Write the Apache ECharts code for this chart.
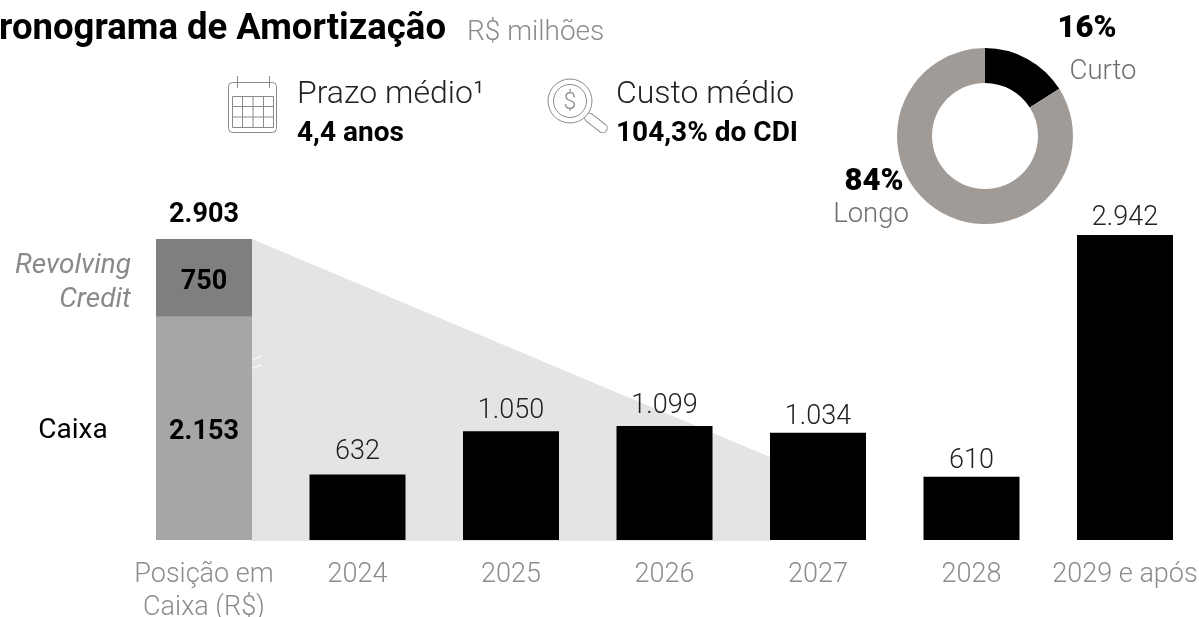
<!DOCTYPE html>
<html><head><meta charset="utf-8">
<style>html,body{margin:0;padding:0;background:#fff;overflow:hidden}#c{width:1199px;height:617px}</style>
<script src="https://cdn.jsdelivr.net/npm/echarts@6/dist/echarts.min.js"></script>
</head><body><div id="c"></div>
<script>
const categories = ['Posição em\nCaixa (R$)','2024','2025','2026','2027','2028','2029 e após'];
const cashValues = [2153,null,null,null,null,null,null];
const revolvingValues = [750,null,null,null,null,null,null];
const totalValues = [2903,null,null,null,null,null,null];
const debtValues = [null,632,1050,1099,1034,610,2942];
const wedgeFrom = [0,2903];
const wedgeTo = [4,800];
const donutNames = ['Curto','Longo'];
const donutValues = [16,84];

const FF = 'Roboto, sans-serif';
const fmt = v => String(v).replace(/\B(?=(\d{3})+$)/g,'.');
const chart = echarts.init(document.getElementById('c'),null,{renderer:'canvas'});

function txt(x,y,text,size,color,weight,align,extra){
  return {type:'text',x,y,silent:true,z:20,style:Object.assign({text,fontFamily:FF,fontSize:size,fill:color,fontWeight:weight||400,align:align||'left',verticalAlign:'middle'},extra||{})};
}
const ic='#8a8a8a';
function ln(x1,y1,x2,y2,color,w){return {type:'line',silent:true,z:20,shape:{x1,y1,x2,y2},style:{stroke:color||ic,lineWidth:w||1}};}
const calendar=[
  {type:'rect',silent:true,z:20,shape:{x:228.5,y:82.5,width:48,height:50,r:4},style:{fill:'none',stroke:ic,lineWidth:1}},
  ln(237.5,76,237.5,88),ln(269.5,76,269.5,88),
  {type:'rect',silent:true,z:20,shape:{x:232.5,y:96.5,width:41,height:31},style:{fill:'none',stroke:ic,lineWidth:1}},
  ln(242.5,96,242.5,128),ln(253,96,253,128),ln(263.5,96,263.5,128),
  ln(232,106.5,274,106.5),ln(232,117,274,117)
];
const magnifier=[
  {type:'circle',silent:true,z:20,shape:{cx:570,cy:101,r:22},style:{fill:'#fff',stroke:ic,lineWidth:1}},
  {type:'circle',silent:true,z:20,shape:{cx:570,cy:101,r:16.5},style:{fill:'none',stroke:ic,lineWidth:1}},
  txt(570,103,'$',23,ic,300,'center'),
  {type:'rect',silent:true,z:19,x:596,y:123,rotation:-38*Math.PI/180,originX:0,originY:0,shape:{x:-13,y:-4.5,width:26,height:9,r:4.5},style:{fill:'#fff',stroke:ic,lineWidth:1}}
];
const graphics=[
  txt(446,30,'Cronograma de Amortização',36.5,'#000',700,'right'),
  txt(467,33,'R$ milhões',28,'#8c8c8c',300),
  ...calendar,...magnifier,
  txt(297,95,'Prazo médio¹',32,'#222',300),
  txt(297,134,'4,4 anos',28,'#000',700),
  txt(616,95,'Custo médio',32,'#222',300),
  txt(616,134,'104,3% do CDI',28,'#000',700),
  txt(1087,29,donutValues[0]+'%',31,'#000',900,'center'),
  txt(1103,72,donutNames[0],27.5,'#6e6e6e',300,'center'),
  txt(874,182,donutValues[1]+'%',31,'#000',900,'center'),
  txt(871,215,donutNames[1],27.5,'#6e6e6e',300,'center'),
  txt(131,266,'Revolving',28,'#8a8a8a',400,'right',{fontStyle:'italic'}),
  txt(131,300,'Credit',28,'#8a8a8a',400,'right',{fontStyle:'italic'}),
  txt(73,431,'Caixa',28,'#000',400,'center'),
  ln(252,360,262,356,'#fff',1),ln(252,368,262,365,'#fff',1)
];
const labelGap = {1:9,2:6,3:6,4:2,5:2,6:3};

chart.setOption({
  animation:false,
  backgroundColor:'#fff',
  grid:{left:127.25,top:229,width:1074.5,height:311,containLabel:false,outerBoundsMode:'none'},
  xAxis:{type:'category',data:categories,axisLine:{show:false},axisTick:{show:false},splitLine:{show:false},
    axisLabel:{interval:0,color:'#8c8c8c',fontFamily:FF,fontWeight:300,fontSize:27,lineHeight:33,margin:19,verticalAlign:'top'}},
  yAxis:{type:'value',min:0,max:3000,show:false,splitLine:{show:false}},
  graphic:graphics,
  series:[
    {type:'custom',name:'wedge',z:1,silent:true,coordinateSystem:'cartesian2d',
     data:[[wedgeFrom[0],wedgeFrom[1],wedgeTo[0],wedgeTo[1]]],
     renderItem(params,api){
       const half=48;
       const a=api.coord([api.value(0),api.value(1)]);
       const b=api.coord([api.value(2),api.value(3)]);
       const base=api.coord([0,0])[1]+1;
       return {type:'polygon',shape:{points:[[a[0]+half,a[1]],[b[0]-half,b[1]],[b[0]-half,base],[a[0]+half,base]]},style:{fill:'#e4e4e4'}};
     }},
    {type:'bar',name:'Caixa',stack:'pos',z:3,barWidth:96,data:cashValues,itemStyle:{color:'#a6a6a6'},
     label:{show:true,position:'inside',offset:[0,4],formatter:p=>fmt(p.value),color:'#000',fontFamily:FF,fontWeight:700,fontSize:27}},
    {type:'bar',name:'Revolving Credit',stack:'pos',z:3,barWidth:96,data:revolvingValues,itemStyle:{color:'#7f7f7f'},
     label:{show:true,position:'inside',offset:[0,4],formatter:p=>fmt(p.value),color:'#000',fontFamily:FF,fontWeight:700,fontSize:27}},
    {type:'bar',name:'Amortização',stack:'debt',z:3,barWidth:96,barGap:'-100%',
     data:debtValues.map((v,i)=>v==null?null:{value:v,label:{distance:labelGap[i]}}),itemStyle:{color:'#000'},
     label:{show:true,position:'top',formatter:p=>fmt(p.value),color:'#222',fontFamily:FF,fontWeight:300,fontSize:27}},
    {type:'scatter',name:'Total',z:4,symbolSize:0,silent:true,data:totalValues,itemStyle:{opacity:1},
     label:{show:true,position:'top',distance:10,formatter:p=>fmt(p.value),color:'#000',fontFamily:FF,fontWeight:700,fontSize:27}},
    {type:'pie',name:'Prazo',z:5,silent:true,center:[985,136],radius:[53,88],startAngle:90,clockwise:true,
     label:{show:false},labelLine:{show:false},
     data:donutNames.map((n,i)=>({name:n,value:donutValues[i],itemStyle:{color:i===0?'#000':'#a09b97'}}))}
  ]
});
</script></body></html>
